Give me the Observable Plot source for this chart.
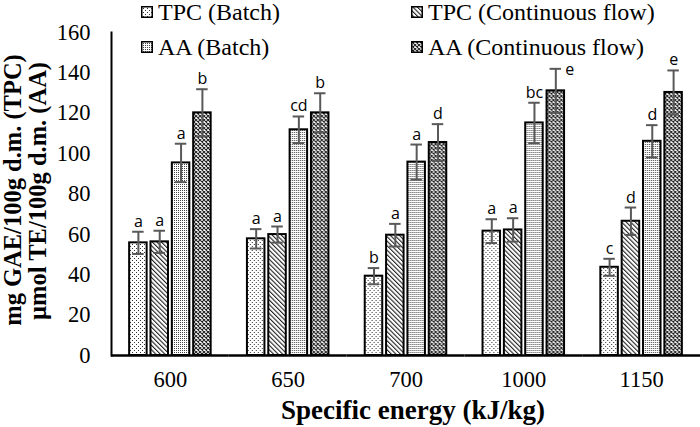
<!DOCTYPE html>
<html>
<head>
<meta charset="utf-8">
<script src="https://cdn.jsdelivr.net/npm/d3@7"></script>
<script src="https://cdn.jsdelivr.net/npm/@observablehq/plot@0.6"></script>
<style>
  html, body { margin: 0; padding: 0; background: #fff; }
  #wrap { position: relative; width: 700px; height: 427px; overflow: hidden; background: #fff; }
  #chart { position: absolute; left: 0; top: 0; }
  .legend-item { position: absolute; display: flex; align-items: center; font-family: "Liberation Serif", "Times New Roman", serif; font-size: 24px; line-height: 24px; color: #000; white-space: nowrap; }
  .legend-item svg { margin-right: 5px; }
  .ytitle { position: absolute; font-family: "Liberation Serif", "Times New Roman", serif; font-weight: bold; font-size: 24.5px; line-height: 24px; white-space: nowrap; transform: translate(-50%, -50%) rotate(-90deg); color: #000; }
  .xtitle { position: absolute; font-family: "Liberation Serif", "Times New Roman", serif; font-weight: bold; font-size: 27px; line-height: 27px; white-space: nowrap; transform: translateX(-50%); color: #000; }
</style>
</head>
<body>
<svg width="0" height="0" style="position:absolute">
  <defs>
    <pattern id="pTPCb" width="4" height="4" patternUnits="userSpaceOnUse">
      <rect width="4" height="4" fill="#fff"/>
      <rect x="0" y="0" width="1" height="1" fill="#333"/>
      <rect x="2" y="2" width="1" height="1" fill="#333"/>
    </pattern>
    <pattern id="pTPCc" width="3.2" height="3.2" patternUnits="userSpaceOnUse" patternTransform="rotate(-45)">
      <rect width="3.2" height="3.2" fill="#fff"/>
      <rect x="0" y="0" width="1.1" height="3.2" fill="#222"/>
    </pattern>
    <pattern id="pAAb" width="2" height="2" patternUnits="userSpaceOnUse">
      <rect width="2" height="2" fill="#fff"/>
      <rect x="0" y="0" width="1" height="1" fill="#444"/>
    </pattern>
    <pattern id="pAAc" width="4" height="4" patternUnits="userSpaceOnUse">
      <rect width="4" height="4" fill="#fff"/>
      <path d="M0,0L4,4M4,0L0,4" stroke="#222" stroke-width="1.1"/>
    </pattern>
  </defs>
</svg>
<div id="wrap">
  <div id="chart"></div>
</div>
<script>
const energies = ["600", "650", "700", "1000", "1150"];
const series = ["TPC (Batch)", "TPC (Continuous flow)", "AA (Batch)", "AA (Continuous flow)"];
const patterns = ["url(#pTPCb)", "url(#pTPCc)", "url(#pAAb)", "url(#pAAc)"];

const tpcBatch = [55.8, 57.8, 39.3, 61.6, 43.7];
const tpcCont  = [56.3, 59.9, 59.6, 62.2, 66.5];
const aaBatch  = [95.4, 111.8, 95.8, 115.2, 106.1];
const aaCont   = [120.2, 120.2, 105.5, 131.1, 130.3];

const tpcBatchErr = [5.5, 4.8, 4.0, 5.9, 4.2];
const tpcContErr  = [5.5, 4.0, 5.6, 5.8, 6.8];
const aaBatchErr  = [9.5, 6.6, 8.7, 10.0, 8.0];
const aaContErr   = [11.7, 9.7, 9.1, 10.9, 10.9];

const tpcBatchLet = ["a", "a", "b", "a", "c"];
const tpcContLet  = ["a", "a", "a", "a", "d"];
const aaBatchLet  = ["a", "cd", "a", "bc", "d"];
const aaContLet   = ["b", "b", "d", "e", "e"];

const yTicks = [0, 20, 40, 60, 80, 100, 120, 140, 160];
const yTitle1 = "mg GAE/100g d.m. (TPC)";
const yTitle2 = "µmol TE/100g d.m. (AA)";
const xTitle = "Specific energy (kJ/kg)";

const values = [tpcBatch, tpcCont, aaBatch, aaCont];
const errors = [tpcBatchErr, tpcContErr, aaBatchErr, aaContErr];
const letters = [tpcBatchLet, tpcContLet, aaBatchLet, aaContLet];

const rows = [];
energies.forEach((e, i) => {
  series.forEach((s, j) => {
    rows.push({energy: e, series: s, value: values[j][i], err: errors[j][i], letter: letters[j][i]});
  });
});
// In the source, the label of the tallest 1000 kJ/kg bar sits beside its cap (under the legend)
const isSide = d => d.energy === "1000" && d.series === "AA (Continuous flow)";

const chart = Plot.plot({
  width: 700,
  height: 427,
  marginTop: 32,
  marginBottom: 72,
  marginLeft: 111,
  marginRight: 0,
  style: {fontFamily: "Liberation Serif, Times New Roman, serif", fontSize: "22px", color: "#000", background: "transparent", overflow: "visible"},
  fx: {domain: energies, paddingInner: 0, paddingOuter: 0, round: false, label: null, axis: null},
  x: {domain: series, paddingInner: 0.18, paddingOuter: 0.85, round: false, axis: null},
  y: {domain: [0, 160], label: null, axis: null},
  color: {type: "ordinal", domain: series, range: patterns},
  marks: [
    Plot.axisY({ticks: yTicks, tickSize: 0, tickPadding: 21, label: null, fontSize: 22.5, fontFamily: "Liberation Serif"}),
    Plot.axisFx({anchor: "bottom", tickSize: 0, tickPadding: 16, label: null, fontSize: 22.5, fontFamily: "Liberation Serif"}),
    Plot.barY(rows, {fx: "energy", x: "series", y: "value", fill: "series", stroke: "#000", strokeWidth: 2}),
    Plot.ruleX(rows, {fx: "energy", x: "series", y1: d => d.value - d.err, y2: d => d.value + d.err, stroke: "#595959", strokeWidth: 2}),
    Plot.tickY(rows, {fx: "energy", x: "series", y: d => d.value + d.err, stroke: "#595959", strokeWidth: 2, insetLeft: 3, insetRight: 3}),
    Plot.tickY(rows, {fx: "energy", x: "series", y: d => d.value - d.err, stroke: "#595959", strokeWidth: 2, insetLeft: 3, insetRight: 3}),
    Plot.text(rows.filter(d => !isSide(d)), {fx: "energy", x: "series", y: d => d.value + d.err, text: "letter", lineAnchor: "bottom", dy: -5, fontFamily: "Open Sans", fontSize: 16, fill: "#000"}),
    Plot.text(rows.filter(isSide), {fx: "energy", x: "series", y: d => d.value + d.err, text: "letter", lineAnchor: "middle", dx: 14, dy: 1, fontFamily: "Open Sans", fontSize: 16, fill: "#000"}),
    Plot.ruleY([0], {stroke: "#000", strokeWidth: 2.5}),
    Plot.frame({anchor: "left", facet: "super", stroke: "#000", strokeWidth: 2})
  ]
});
document.getElementById("chart").appendChild(chart);

const wrap = document.getElementById("wrap");
const legendPos = [[141, 0], [411, 0], [141, 35], [411, 35]];
series.forEach((s, j) => {
  const item = document.createElement("div");
  item.className = "legend-item";
  item.style.left = legendPos[j][0] + "px";
  item.style.top = legendPos[j][1] + "px";
  item.innerHTML = `<svg width="12" height="12"><rect x="0.75" y="0.75" width="10.5" height="10.5" fill="${patterns[j]}" stroke="#000" stroke-width="1.5"/></svg><span>${s}</span>`;
  wrap.appendChild(item);
});

const t1 = document.createElement("div");
t1.className = "ytitle"; t1.textContent = yTitle1;
t1.style.left = "13px"; t1.style.top = "190px";
wrap.appendChild(t1);
const t2 = document.createElement("div");
t2.className = "ytitle"; t2.textContent = yTitle2;
t2.style.left = "38px"; t2.style.top = "191px";
wrap.appendChild(t2);

const xt = document.createElement("div");
xt.className = "xtitle"; xt.textContent = xTitle;
xt.style.left = "413px"; xt.style.top = "397px";
wrap.appendChild(xt);
</script>
</body>
</html>
